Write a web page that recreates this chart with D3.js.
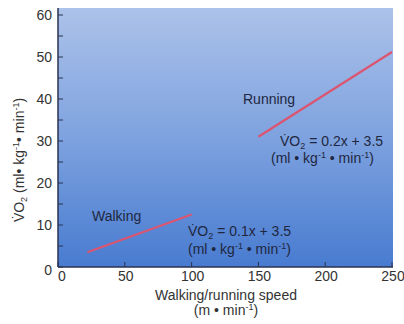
<!DOCTYPE html>
<html>
<head>
<meta charset="utf-8">
<script src="https://cdn.jsdelivr.net/npm/d3@7"></script>
<style>
  body { margin: 0; background: #fff; }
  text { font-family: "Liberation Sans", Arial, sans-serif; fill: #1f2740; }
</style>
</head>
<body>
<div id="chart"></div>
<script>
// data
var xTicks = [0, 50, 100, 150, 200, 250];
var yTicks = [0, 10, 20, 30, 40, 50, 60];
var yMinor = [5, 15, 25, 35, 45, 55];
var walkingSpeed = [22, 100];
var walkingVO2 = [3.5, 12.5];
var runningSpeed = [150, 250];
var runningVO2 = [31, 51.2];

var svg = d3.select("#chart").append("svg")
  .attr("width", 404)
  .attr("height", 324);

var x = d3.scaleLinear().domain([0, 250]).range([58, 392]);
var y = d3.scaleLinear().domain([0, 60]).range([267, 15]);

var defs = svg.append("defs");
var grad = defs.append("linearGradient")
  .attr("id", "bg")
  .attr("x1", 0).attr("y1", 0).attr("x2", 0).attr("y2", 1);
grad.append("stop").attr("offset", "0%").attr("stop-color", "#acc2e9");
grad.append("stop").attr("offset", "50%").attr("stop-color", "#7ea2df");
grad.append("stop").attr("offset", "100%").attr("stop-color", "#487bd0");

// plot background
svg.append("rect")
  .attr("x", x(0))
  .attr("y", y(60) - 7)
  .attr("width", x(250) - x(0) + 1)
  .attr("height", y(0) - y(60) + 7)
  .attr("fill", "url(#bg)");

// axes lines
svg.append("line")
  .attr("x1", x(0)).attr("x2", x(0))
  .attr("y1", y(60) - 7).attr("y2", y(0))
  .attr("stroke", "#2a3350").attr("stroke-width", 1.5);
svg.append("line")
  .attr("x1", x(0)).attr("x2", x(250) + 1)
  .attr("y1", y(0)).attr("y2", y(0))
  .attr("stroke", "#2a3350").attr("stroke-width", 1.5);

// y ticks (inward)
svg.selectAll(".ytick")
  .data(yTicks.concat(yMinor))
  .enter().append("line")
  .attr("class", "ytick")
  .attr("x1", x(0)).attr("x2", x(0) + 5)
  .attr("y1", function(d) { return y(d); })
  .attr("y2", function(d) { return y(d); })
  .attr("stroke", "#2a3350").attr("stroke-width", 1);

svg.selectAll(".ylab")
  .data(yTicks)
  .enter().append("text")
  .attr("class", "ylab")
  .attr("x", x(0) - 6)
  .attr("y", function(d) { return d == 0 ? y(d) + 3 : y(d); })
  .attr("dy", "0.35em")
  .attr("text-anchor", "end")
  .attr("font-size", 14)
  .style("fill", "#333")
  .text(function(d) { return d; });

// x ticks (inward)
svg.selectAll(".xtick")
  .data(xTicks)
  .enter().append("line")
  .attr("class", "xtick")
  .attr("x1", function(d) { return x(d); })
  .attr("x2", function(d) { return x(d); })
  .attr("y1", y(0)).attr("y2", y(0) - 5)
  .attr("stroke", "#2a3350").attr("stroke-width", 1);

svg.selectAll(".xlab")
  .data(xTicks)
  .enter().append("text")
  .attr("class", "xlab")
  .attr("x", function(d) { return d == 0 ? x(d) + 4 : x(d) + 1; })
  .attr("y", 281)
  .attr("text-anchor", "middle")
  .attr("font-size", 14)
  .style("fill", "#333")
  .text(function(d) { return d; });

// axis titles
svg.append("text")
  .attr("x", 226).attr("y", 300)
  .attr("text-anchor", "middle")
  .attr("font-size", 14)
  .style("fill", "#333")
  .text("Walking/running speed");

var t2 = svg.append("text")
  .attr("x", 226).attr("y", 315)
  .attr("text-anchor", "middle")
  .attr("font-size", 14)
  .style("fill", "#333");
t2.append("tspan").text("(m \u2022 min");
t2.append("tspan").attr("dy", -5).attr("font-size", 9).text("-1");
t2.append("tspan").attr("dy", 5).text(")");

// VO2 label helper
function vo2(sel, rest) {
  sel.append("tspan").text("V\u0307O");
  sel.append("tspan").attr("dy", 3).attr("font-size", 9).text("2");
  sel.append("tspan").attr("dy", -3).text(rest);
}
function units(sel, sep) {
  sel.append("tspan").text("(ml" + sep + "\u2022 kg");
  sel.append("tspan").attr("dy", -5).attr("font-size", 9).text("-1");
  sel.append("tspan").attr("dy", 5).text(sep + "\u2022 min");
  sel.append("tspan").attr("dy", -5).attr("font-size", 9).text("-1");
  sel.append("tspan").attr("dy", 5).text(")");
}

var yl = svg.append("text")
  .attr("transform", "translate(24,160) rotate(-90)")
  .attr("text-anchor", "middle")
  .attr("font-size", 14)
  .style("fill", "#333");
vo2(yl, " ");
units(yl, "");

// lines
var line = d3.line()
  .x(function(d) { return x(d[0]); })
  .y(function(d) { return y(d[1]); });

svg.append("path")
  .datum(d3.zip(walkingSpeed, walkingVO2))
  .attr("d", line)
  .attr("fill", "none")
  .attr("stroke", "#dc5570")
  .attr("stroke-width", 2.2);

svg.append("path")
  .datum(d3.zip(runningSpeed, runningVO2))
  .attr("d", line)
  .attr("fill", "none")
  .attr("stroke", "#dc5570")
  .attr("stroke-width", 2.2);

// annotations
svg.append("text")
  .attr("x", 243).attr("y", 104)
  .attr("font-size", 14)
  .text("Running");

var r1 = svg.append("text").attr("x", 280).attr("y", 146).attr("font-size", 14);
vo2(r1, " = 0.2x + 3.5");
var r2 = svg.append("text").attr("x", 271).attr("y", 163).attr("font-size", 14);
units(r2, " ");

svg.append("text")
  .attr("x", 92).attr("y", 221)
  .attr("font-size", 14)
  .text("Walking");

var w1 = svg.append("text").attr("x", 188).attr("y", 236).attr("font-size", 14);
vo2(w1, " = 0.1x + 3.5");
var w2 = svg.append("text").attr("x", 188).attr("y", 254).attr("font-size", 14);
units(w2, " ");
</script>
</body>
</html>
